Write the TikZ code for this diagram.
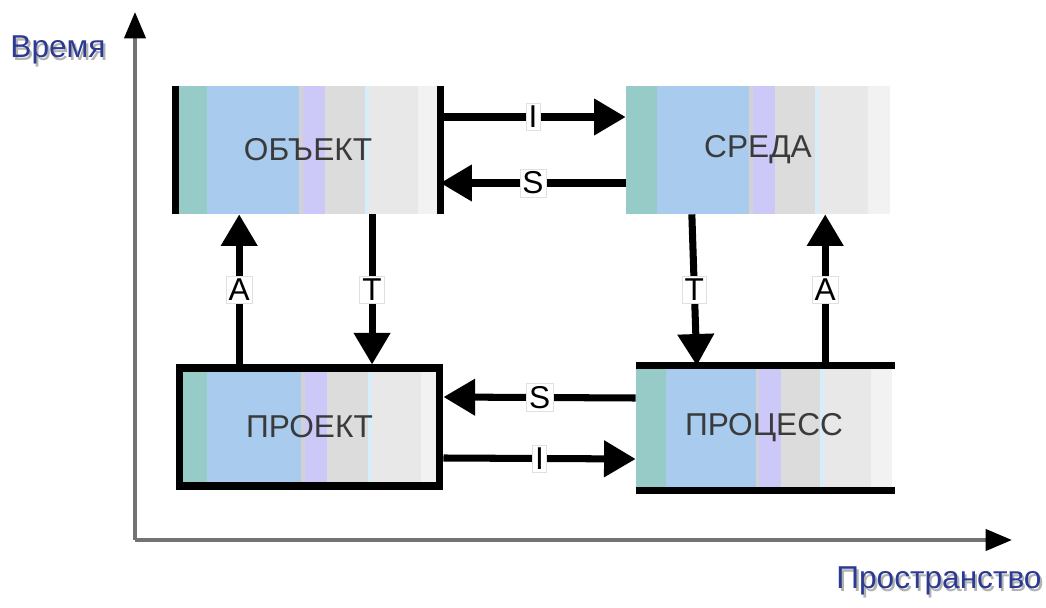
\documentclass[tikz,border=0pt]{standalone}
\usepackage{fontspec}
\setmainfont{Liberation Sans}
\usetikzlibrary{arrows.meta,calc,backgrounds}
\definecolor{cTeal}{HTML}{96CBC8}
\definecolor{cBlue}{HTML}{A8CBEE}
\definecolor{cLine}{HTML}{D2D2D6}
\definecolor{cLav}{HTML}{CCC8F8}
\definecolor{cGrayA}{HTML}{DCDCDC}
\definecolor{cCyan}{HTML}{D6EEFA}
\definecolor{cGrayB}{HTML}{E8E8E8}
\definecolor{cGrayC}{HTML}{F2F2F2}
\definecolor{cText}{HTML}{3A3A3A}
\definecolor{cAxis}{HTML}{2B3A92}
\newcommand\boxstripes[1]{%
  \foreach \a/\b/\c in {0/.117/cTeal,.117/.467/cBlue,.467/.482/cLine,.482/.565/cLav,
      .565/.717/cGrayA,.717/.732/cCyan,.732/.915/cGrayB,.915/1/cGrayC}
    \fill[\c] ($(#1.south west)!\a!(#1.south east)$) rectangle ($(#1.north west)!\b!(#1.north east)$);}
\newcommand\shadowed[1]{\rlap{\hspace{1.2pt}\raisebox{-1.6pt}{\textcolor{black!30}{#1}}}#1}
\tikzset{
  box/.style={inner sep=0pt, font=\fontsize{18}{20}\selectfont, text=cText},
  bar/.style={line width=4pt},
  flow/.style={line width=4pt, -{Triangle[length=18pt,width=20pt]}},
  lbl/.style={fill=white, draw=black!12, line width=0.3pt, inner sep=1.5pt, text=black,
      font=\fontsize{18}{20}\selectfont},
  axis/.style={line width=2.2pt, draw=black!55, -{Triangle[length=15pt,width=12pt,color=black]}},
  axlabel/.style={font=\fontsize{18}{20}\selectfont, text=cAxis}
}
\begin{document}
\begin{tikzpicture}[x=0.02cm,y=-0.02cm]
\useasboundingbox (0,0) rectangle (1046,608);
\coordinate (o) at (135,540);
\coordinate (ytop) at (135,12);
\coordinate (xend) at (1012,540);
\draw[axis] (o) -- (ytop);
\draw[axis] (o) -- (xend);
\node[axlabel] (tlab) at (58,51) {\shadowed{Время}};
\node[axlabel] (slab) at (939,582) {\shadowed{Пространство}};

\node[box, minimum width=5.28cm, minimum height=2.56cm] (obj) at (308,150) {ОБЪЕКТ};
\node[box, minimum width=5.28cm, minimum height=2.56cm] (env) at (758,150) {СРЕДА};
\node[box, draw, line width=4pt, minimum width=5.22cm, minimum height=2.36cm] (proj) at (309.5,427) {ПРОЕКТ};
\node[box, minimum width=5.12cm, minimum height=2.48cm] (proc) at (764,428) {ПРОЦЕСС};
\begin{scope}[on background layer]
\fill[white] (0,0) rectangle (1046,608);
\boxstripes{obj}
\boxstripes{env}
\boxstripes{proj}
\boxstripes{proc}
\end{scope}
\draw[bar] (obj.north west) -- (obj.south west);
\draw[bar] (obj.north east) -- (obj.south east);
\draw[bar] (proc.north west) -- ([xshift=0.06cm]proc.north east);
\draw[bar] (proc.south west) -- ([xshift=0.06cm]proc.south east);

\coordinate (aL) at ($(obj.south west)!.24!(obj.south east)$);
\coordinate (tL) at ($(obj.south west)!.742!(obj.south east)$);
\coordinate (tR) at ($(env.south west)!.25!(env.south east)$);
\coordinate (aR) at ($(env.south west)!.754!(env.south east)$);

\draw[flow] ([yshift=0.66cm]obj.east) -- node[lbl] (i1) {I} ([yshift=0.66cm]env.west);
\draw[flow] ([yshift=-0.66cm]env.west) -- node[lbl] (s1) {S} ([yshift=-0.66cm]obj.east);
\draw[flow] (proj.north -| aL) -- node[lbl] (a1) {A} (aL);
\draw[flow] (tL) -- node[lbl] (t1) {T} (proj.north -| tL);
\draw[flow] (tR) -- node[lbl] (t2) {T} ([xshift=0.1cm]tR |- proc.north);
\draw[flow] (proc.north -| aR) -- node[lbl] (a2) {A} (aR);
\draw[flow] ([yshift=0.6cm]proc.west) -- node[lbl] (s2) {S} ([yshift=0.6cm]proj.east);
\draw[flow] ([yshift=-0.62cm]proj.east) -- node[lbl] (i2) {I} ([yshift=-0.62cm]proc.west);
\end{tikzpicture}
\end{document}
